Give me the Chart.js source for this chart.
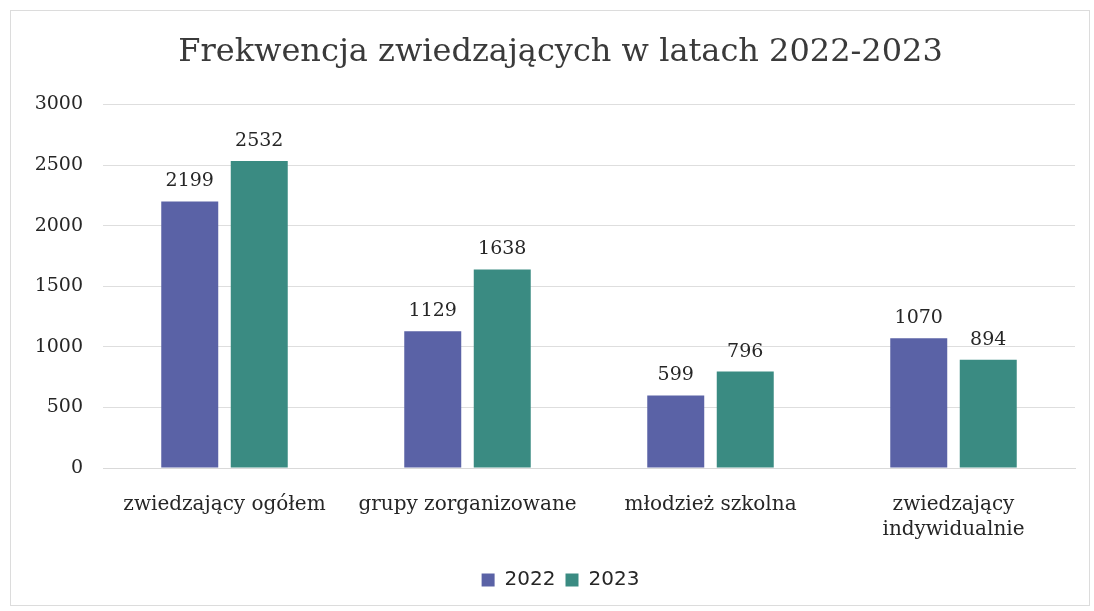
<!DOCTYPE html>
<html lang="pl">
<head>
<meta charset="utf-8">
<title>Frekwencja zwiedzających</title>
<script src="https://cdn.jsdelivr.net/npm/chart.js@4.4.1/dist/chart.umd.min.js"></script>
<style>
    body { margin: 0; background: #fff; }
    #kontener { position: relative; width: 1094px; height: 611px; }
    #ramka {
        position: absolute; left: 10px; top: 10px;
        width: 1078px; height: 594px;
        border: 1px solid #dcdcdc;
        pointer-events: none;
    }
    canvas { position: absolute; left: 0; top: 0; }
</style>
</head>
<body>
<div id="kontener">
    <canvas id="wykres" width="1094" height="611"></canvas>
    <div id="ramka"></div>
</div>
<script>
// Dane wykresu
const kategorie = [
    'zwiedzający ogółem',
    'grupy zorganizowane',
    'młodzież szkolna',
    ['zwiedzający', 'indywidualnie']
];
const lata = ['2022', '2023'];
const wartosci2022 = [2199, 1129, 599, 1070];
const wartosci2023 = [2532, 1638, 796, 894];
const osY = [0, 500, 1000, 1500, 2000, 2500, 3000];

const kolor2022 = '#5a62a6';
const kolor2023 = '#3a8b82';

const czcionkaSzeryf = "'DejaVu Serif', 'Liberation Serif', serif";

// Etykiety z wartościami nad słupkami
const etykietyWartosci = {
    id: 'etykietyWartosci',
    afterDatasetsDraw(chart) {
        const ctx = chart.ctx;
        ctx.save();
        ctx.font = `19px ${czcionkaSzeryf}`;
        ctx.fillStyle = '#262626';
        ctx.textAlign = 'center';
        ctx.textBaseline = 'alphabetic';
        chart.data.datasets.forEach((zbior, i) => {
            const meta = chart.getDatasetMeta(i);
            meta.data.forEach((slupek, j) => {
                ctx.fillText(String(zbior.data[j]), slupek.x, slupek.y - 15);
            });
        });
        ctx.restore();
    }
};

new Chart(document.getElementById('wykres'), {
    type: 'bar',
    data: {
        labels: kategorie,
        datasets: [
            { label: lata[0], data: wartosci2022, backgroundColor: kolor2022 },
            { label: lata[1], data: wartosci2023, backgroundColor: kolor2023 }
        ]
    },
    options: {
        responsive: false,
        animation: false,
        categoryPercentage: 0.572,
        barPercentage: 0.82,
        layout: {
            // lewy margines przesuwa środek tytułu i legendy
            padding: { top: 33, right: 19, bottom: 11, left: 46 }
        },
        plugins: {
            title: {
                display: true,
                text: 'Frekwencja zwiedzających w latach 2022-2023',
                color: '#3a3a3a',
                font: { family: czcionkaSzeryf, size: 32, weight: 'normal' },
                padding: { top: 0, bottom: 33 }
            },
            legend: {
                position: 'bottom',
                labels: {
                    boxWidth: 13,
                    boxHeight: 13,
                    padding: 10,
                    color: '#262626',
                    font: { family: "'DejaVu Sans', sans-serif", size: 20 }
                }
            },
            tooltip: { enabled: false }
        },
        scales: {
            x: {
                grid: { display: false },
                border: { color: '#d9d9d9' },
                ticks: {
                    color: '#262626',
                    padding: 16,
                    maxRotation: 0,
                    font: { family: czcionkaSzeryf, size: 20, lineHeight: 1.25 }
                },
                afterFit(skala) { skala.height = 92; }
            },
            y: {
                min: 0,
                max: 3000,
                afterBuildTicks(skala) { skala.ticks = osY.map(v => ({ value: v })); },
                grid: { color: '#dedede', drawTicks: false },
                border: { display: false },
                ticks: {
                    color: '#262626',
                    padding: 20,
                    font: { family: czcionkaSzeryf, size: 19 },
                    callback: (v) => String(v)
                },
                afterFit(skala) {
                    skala.width = 57;
                    // etykiety wychodzą poza wąską oś, więc bez przycinania
                    skala._computeLabelArea = () => null;
                }
            }
        }
    },
    plugins: [etykietyWartosci]
});
</script>
</body>
</html>
